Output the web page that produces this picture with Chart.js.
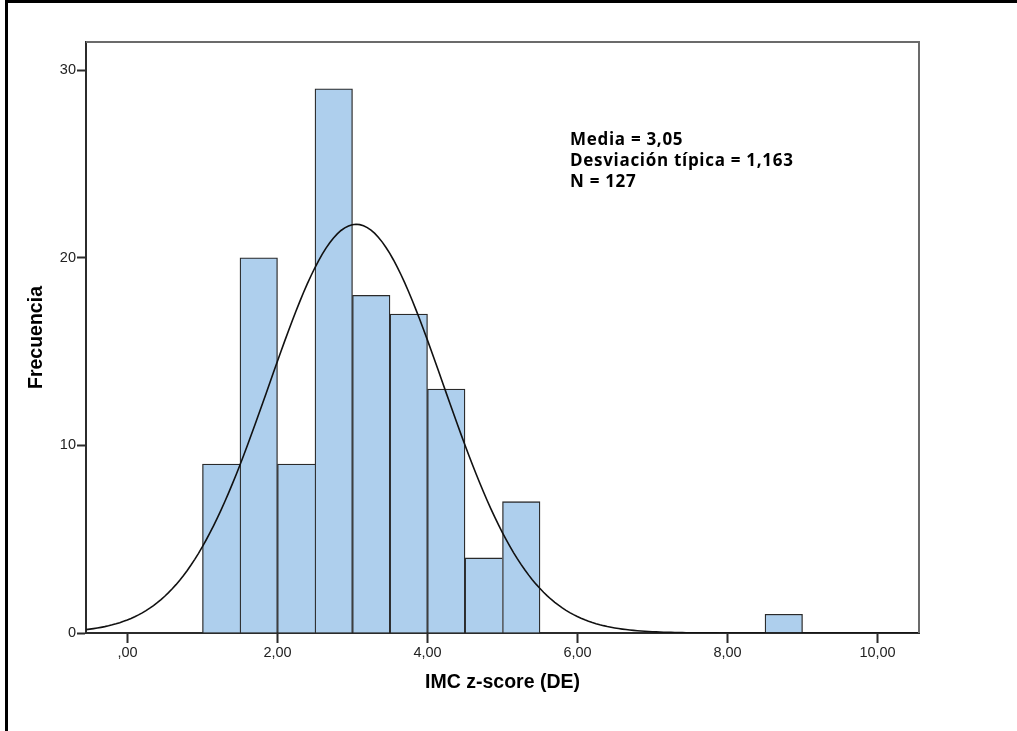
<!DOCTYPE html>
<html>
<head>
<meta charset="utf-8">
<script src="https://cdn.jsdelivr.net/npm/chart.js@4.4.1/dist/chart.umd.min.js"></script>
<style>
  html, body { margin: 0; padding: 0; background: #fff; overflow: hidden; }
  #wrap { position: relative; width: 1017px; height: 731px; }
  #frame { position: absolute; left: 5px; top: 0; width: 1100px; height: 800px;
           border-left: 3px solid #000; border-top: 3px solid #000; pointer-events: none; }
  canvas { position: absolute; left: 0; top: 0; }
</style>
</head>
<body>
<div id="wrap">
  <canvas id="hist" width="1017" height="731"></canvas>
  <div id="frame"></div>
</div>
<script>
// histogram bins (lower edge) and counts
const binStarts = [1.0, 1.5, 2.0, 2.5, 3.0, 3.5, 4.0, 4.5, 5.0, 8.5];
const binCounts = [9, 20, 9, 29, 18, 17, 13, 4, 7, 1];
const binWidth = 0.5;

// summary values shown in the box
const media = 3.05;
const desviacion = 1.163;
const nTotal = 127;
const statLines = ["Media = 3,05", "Desviación típica = 1,163", "N = 127"];

const xMin = -0.553, xMax = 10.553;
const yMax = 31.5;

const barData = binStarts.map((s, i) => ({ x: s + binWidth / 2, y: binCounts[i] }));

// fitted normal curve, scaled to counts per bin
const curve = [];
for (let x = xMin; x <= xMax + 1e-9; x += 0.05) {
  const z = (x - media) / desviacion;
  const y = nTotal * binWidth * Math.exp(-0.5 * z * z) / (desviacion * Math.sqrt(2 * Math.PI));
  curve.push({ x: x, y: y });
}

function fmtComma(v) {
  if (v === 0) return ",00";
  return v.toFixed(2).replace(".", ",");
}

// right edge only where the neighbour won't draw it with its own left edge
function barBorder(ctx) {
  const i = ctx.dataIndex;
  const next = binStarts[i + 1];
  const adjacent = next !== undefined && Math.abs(next - binStarts[i] - binWidth) < 1e-6;
  const needRight = !adjacent || binCounts[i + 1] < binCounts[i];
  return { top: 1.3, left: 1.3, bottom: 0, right: needRight ? 1.3 : 0 };
}

const plotFrame = {
  id: "plotFrame",
  afterDatasetsDraw(chart) {
    const { ctx, chartArea: a } = chart;
    ctx.save();
    ctx.strokeStyle = "#6b6b6b";
    ctx.lineWidth = 2;
    ctx.beginPath();
    ctx.moveTo(a.left, a.top);
    ctx.lineTo(a.right, a.top);
    ctx.lineTo(a.right, a.bottom);
    ctx.stroke();
    ctx.restore();
  }
};

const statsBox = {
  id: "statsBox",
  afterDraw(chart) {
    const ctx = chart.ctx;
    ctx.save();
    ctx.fillStyle = "#000";
    ctx.font = "bold 17px 'Open Sans'";
    ctx.letterSpacing = "0.7px";
    ctx.textBaseline = "alphabetic";
    statLines.forEach((t, i) => ctx.fillText(t, 570, 145 + i * 21));
    ctx.restore();
  }
};

new Chart(document.getElementById("hist"), {
  type: "bar",
  data: {
    datasets: [
      {
        type: "line",
        data: curve,
        borderColor: "#111",
        borderWidth: 1.6,
        pointRadius: 0,
        tension: 0,
        fill: false,
        order: 0
      },
      {
        data: barData,
        backgroundColor: "#AECFED",
        borderColor: "#2a2a2a",
        borderWidth: barBorder,
        borderSkipped: false,
        barPercentage: 1,
        categoryPercentage: 1,
        order: 1
      }
    ]
  },
  options: {
    responsive: false,
    animation: false,
    devicePixelRatio: 1,
    layout: { padding: { left: 0, top: 42, right: 98, bottom: 0 } },
    plugins: { legend: { display: false }, tooltip: { enabled: false } },
    scales: {
      x: {
        type: "linear",
        min: xMin,
        max: xMax,
        offset: false,
        afterFit: s => { s.height = 98; },
        border: { color: "#2b2b2b", width: 2 },
        grid: { offset: false, drawOnChartArea: false, drawTicks: true, tickLength: 10, tickWidth: 2, tickColor: "#2b2b2b" },
        ticks: {
          stepSize: 2,
          includeBounds: false,
          maxRotation: 0,
          padding: 1,
          color: "#222",
          font: { family: "Liberation Sans", size: 14.5 },
          callback: v => fmtComma(v)
        },
        title: {
          display: true,
          text: "IMC z-score (DE)",
          color: "#000",
          font: { family: "Liberation Sans", size: 19.5, weight: "bold" },
          padding: { top: 0, bottom: 37 }
        }
      },
      y: {
        min: 0,
        max: yMax,
        afterFit: s => { s.width = 86; },
        border: { color: "#2b2b2b", width: 2 },
        grid: { drawOnChartArea: false, drawTicks: true, tickLength: 9, tickWidth: 2, tickColor: "#2b2b2b" },
        ticks: {
          stepSize: 10,
          includeBounds: false,
          padding: 1,
          color: "#222",
          font: { family: "Liberation Sans", size: 14.5 }
        },
        title: {
          display: true,
          text: "Frecuencia",
          color: "#000",
          font: { family: "Liberation Sans", size: 19.5, weight: "bold" },
          padding: { top: 25, bottom: 0 }
        }
      }
    }
  },
  plugins: [plotFrame, statsBox]
});
</script>
</body>
</html>
